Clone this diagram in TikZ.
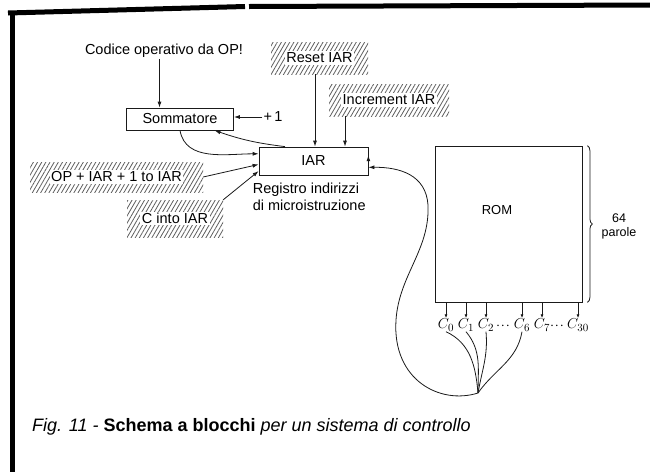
\documentclass[tikz,border=0pt]{standalone}
\usepackage{fontspec}
\setmainfont{Liberation Sans}
\usetikzlibrary{arrows.meta,positioning,calc,patterns.meta,decorations.pathreplacing}
\definecolor{Ink}{HTML}{1A1A1A}
\definecolor{Hatch}{HTML}{5E5E5E}
\tikzset{
  box/.style={draw=Ink,fill=white,line width=.8pt,minimum height=22pt,align=center,inner xsep=6pt,font=\fontsize{14.5}{17}\selectfont},
  hatchbg/.style={pattern={Lines[angle=60,distance=3.6pt,line width=.8pt]},pattern color=Hatch,inner sep=0pt},
  lbl/.style={fill=white,inner xsep=1.5pt,inner ysep=1.5pt,font=\fontsize{14.5}{17}\selectfont},
  txt/.style={inner sep=1pt,font=\fontsize{14.5}{17}\selectfont},
  clab/.style={inner sep=.5pt,font=\fontsize{15}{17}\selectfont},
  flow/.style={-{Latex[length=6pt,width=4pt]},draw=Ink,line width=.8pt},
  plainline/.style={draw=Ink,line width=.8pt},
  frameline/.style={draw=black,line width=5pt}
}
\begin{document}
\begin{tikzpicture}[x=1pt,y=-1pt]
      \useasboundingbox (0,0) rectangle (650,472);
      % frame
      \draw[frameline] (8,13) -- (245,6.5);
      \draw[frameline] (249,6.5) -- (650,5);
      \draw[frameline] (12,11) -- (12,472);
      % blocks
      \node[txt] (opcode) at (164,51) {Codice operativo da OP!};
      \node[box,minimum width=107pt] (somm) at (180,119) {Sommatore};
      \node[txt] (one) at (273,117) {+\,1};
      \node[box,minimum width=109pt,minimum height=28pt] (iar) at (313.5,161) {IAR};
      \node[txt,align=left,below=6pt of iar.south west,anchor=north west,xshift=-7pt] (iarnote) {Registro indirizzi\\di microistruzione};
      \node[box,minimum width=147pt,minimum height=156pt] (rom) at (508.5,224) {};
      \node[txt,font=\fontsize{13}{15}\selectfont] (romlbl) at (497,210) {ROM};
      \node[txt,align=center,font=\fontsize{12.5}{14}\selectfont] (words) at (619,226) {64\\parole};
      % hatched commands
      \node[hatchbg,minimum width=97pt,minimum height=32pt] (resetbg) at (319.5,58) {};
      \node[lbl] (reset) at (resetbg) {Reset IAR};
      \node[hatchbg,minimum width=120pt,minimum height=32pt] (incbg) at (389,100) {};
      \node[lbl] (inc) at (incbg) {Increment IAR};
      \node[hatchbg,minimum width=173pt,minimum height=30pt] (opbg) at (116.5,177) {};
      \node[lbl] (opadd) at (opbg) {OP + IAR + 1 to IAR};
      \node[hatchbg,minimum width=96pt,minimum height=37pt] (cbg) at (175,218.5) {};
      \node[lbl] (cinto) at (cbg) {C into IAR};
      % control lines
      \node[clab] (c0) at (446,325) {$C_0$};
      \node[clab] (c1) at (466,325) {$C_1$};
      \node[clab] (c2) at (486,325) {$C_2$};
      \node[clab] (d1) at (503,326) {$\cdot\!\cdot\!\cdot$};
      \node[clab] (c6) at (522,325) {$C_6$};
      \node[clab] (c7) at (542,325) {$C_7$};
      \node[clab] (d2) at (557,326) {$\cdot\!\cdot\!\cdot$};
      \node[clab] (c30) at (578,325) {$C_{30}$};
      \coordinate (hub) at (478,393);
      \node[anchor=west,inner sep=0pt,font=\fontsize{18}{21}\selectfont] (caption) at (32,427) {\textit{Fig. 11 -} \textbf{Schema a blocchi} \textit{per un sistema di controllo}};
      % connectors
      \coordinate (sommin) at ($(somm.north west)!.31!(somm.north east)$);
      \draw[flow] (opcode.south -| sommin) -- (sommin);
      \draw[flow] (one.west) -- (one.west -| somm.east);
      \draw[flow] (somm.south) to[out=-80,in=180] ($(iar.north west)!.25!(iar.south west)$);
      \draw[flow] ($(iar.north west)!.24!(iar.north east)$) to[bend left=6] ($(somm.south west)!.82!(somm.south east)$);
      \draw[flow] (opbg.east) -- ($(iar.north west)!.62!(iar.south west)$);
      \draw[flow] (cbg.north east) -- ($(iar.north west)!.85!(iar.south west)$);
      \draw[flow] ([xshift=-4.5pt]resetbg.south) -- ([xshift=-4.5pt]resetbg.south |- iar.north);
      \draw[flow] ([xshift=-44pt]incbg.south) -- ([xshift=-44pt]incbg.south |- iar.north);
      \draw[flow] ($(iar.north east)!.3!(iar.south east)$) -- ($(iar.north east)!.3!(iar.south east)$ -| rom.west);
      \draw[plainline,decorate,decoration={brace,amplitude=5pt}] ([xshift=5pt]rom.north east) -- ([xshift=5pt]rom.south east);
      \foreach \c in {c0,c1,c2,c6,c7,c30}
        \draw[flow,-{Latex[length=4pt,width=3pt]}] (rom.south -| \c) -- (\c.north);
      \draw[plainline] (c0.south) to[out=-25,in=95] (hub);
      \draw[plainline] (c1.south) to[out=-50,in=90] (hub);
      \draw[plainline] (c2.south) to[out=-85,in=80] (hub);
      \draw[plainline] (c6.south) to[out=-100,in=55] (hub);
      \draw[flow] (hub) .. controls (440,405) and (392,380) .. (396,320) .. controls (399,275) and (430,250) .. (428,205) .. controls (426,175) and (400,167) .. ($(iar.north east)!.72!(iar.south east)$);
    \end{tikzpicture}
\end{document}
